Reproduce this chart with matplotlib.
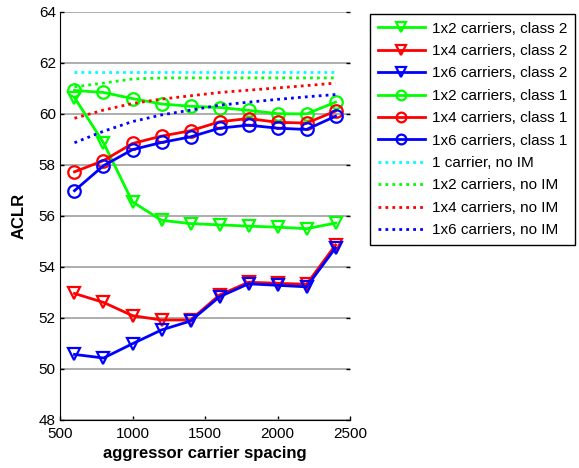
import matplotlib
matplotlib.use("Agg")
import matplotlib.pyplot as plt

plt.rcParams['font.family'] = ['Liberation Sans', 'DejaVu Sans']

spacing = [600, 800, 1000, 1200, 1400, 1600, 1800, 2000, 2200, 2400]

# class 2 results
c2_1x2 = [60.64, 58.87, 56.55, 55.83, 55.70, 55.65, 55.60, 55.56, 55.50, 55.72]
c2_1x4 = [52.96, 52.61, 52.09, 51.92, 51.92, 52.90, 53.40, 53.36, 53.32, 54.86]
c2_1x6 = [50.57, 50.43, 50.99, 51.53, 51.88, 52.83, 53.34, 53.28, 53.22, 54.75]

# class 1 results
c1_1x2 = [60.92, 60.84, 60.60, 60.39, 60.30, 60.25, 60.14, 60.01, 60.00, 60.46]
c1_1x4 = [57.73, 58.17, 58.84, 59.13, 59.34, 59.69, 59.82, 59.67, 59.64, 60.11]
c1_1x6 = [56.99, 57.97, 58.60, 58.88, 59.10, 59.44, 59.56, 59.44, 59.39, 59.91]

# reference levels without intermodulation
noim_1 = [61.66] * 10
noim_1x2 = [61.06, 61.21, 61.37, 61.41, 61.41, 61.41, 61.41, 61.41, 61.41, 61.41]
noim_1x4 = [59.83, 60.15, 60.41, 60.58, 60.71, 60.84, 60.93, 61.02, 61.11, 61.21]
noim_1x6 = [58.87, 59.32, 59.70, 59.96, 60.15, 60.34, 60.46, 60.57, 60.67, 60.76]

GREEN = (0, 1, 0)
RED = (1, 0, 0)
BLUE = (0, 0, 1)
CYAN = (0, 1, 1)

fig = plt.figure(figsize=(5.79, 4.68), dpi=100)
ax = fig.add_axes([0.1036, 0.1026, 0.501, 0.872])

mk = dict(markersize=9, markerfacecolor='none', markeredgewidth=1.6, linewidth=2)
ax.plot(spacing, c2_1x2, color=GREEN, marker='v', label='1x2 carriers, class 2', **mk)
ax.plot(spacing, c2_1x4, color=RED, marker='v', label='1x4 carriers, class 2', **mk)
ax.plot(spacing, c2_1x6, color=BLUE, marker='v', label='1x6 carriers, class 2', **mk)
ax.plot(spacing, c1_1x2, color=GREEN, marker='o', label='1x2 carriers, class 1', **mk)
ax.plot(spacing, c1_1x4, color=RED, marker='o', label='1x4 carriers, class 1', **mk)
ax.plot(spacing, c1_1x6, color=BLUE, marker='o', label='1x6 carriers, class 1', **mk)

dot = dict(linestyle=(0, (1, 1.5)), linewidth=2)
ax.plot(spacing, noim_1, color=CYAN, label='1 carrier, no IM', **dot)
ax.plot(spacing, noim_1x2, color=GREEN, label='1x2 carriers, no IM', **dot)
ax.plot(spacing, noim_1x4, color=RED, label='1x4 carriers, no IM', **dot)
ax.plot(spacing, noim_1x6, color=BLUE, label='1x6 carriers, no IM', **dot)

ax.set_xlim(500, 2500)
ax.set_ylim(48, 64)
ax.set_xticks([500, 1000, 1500, 2000, 2500])
ax.set_yticks([48, 50, 52, 54, 56, 58, 60, 62, 64])

ax.yaxis.grid(True, color='#a0a0a0', linewidth=1.2)
ax.set_axisbelow(True)
ax.spines['top'].set_visible(False)
ax.spines['right'].set_visible(False)
ax.tick_params(axis='both', direction='in', length=3, width=1, labelsize=11)
ax.tick_params(axis='x', pad=5)
ax.tick_params(axis='y', right=True, pad=3)

ax.set_xlabel('aggressor carrier spacing', fontsize=12, fontweight='bold', labelpad=4)
ax.set_ylabel('ACLR', fontsize=12, fontweight='bold', labelpad=9)

leg = ax.legend(loc='upper left', bbox_to_anchor=(0.639, 0.970),
                bbox_transform=fig.transFigure, fontsize=11,
                fancybox=False, edgecolor='black', framealpha=1,
                handlelength=3.1, labelspacing=0.55, borderpad=0.5,
                handletextpad=0.45, borderaxespad=0)
leg.get_frame().set_linewidth(1)
for h in leg.get_lines():
    h.set_markersize(7)

fig.savefig('out.png', dpi=100)
